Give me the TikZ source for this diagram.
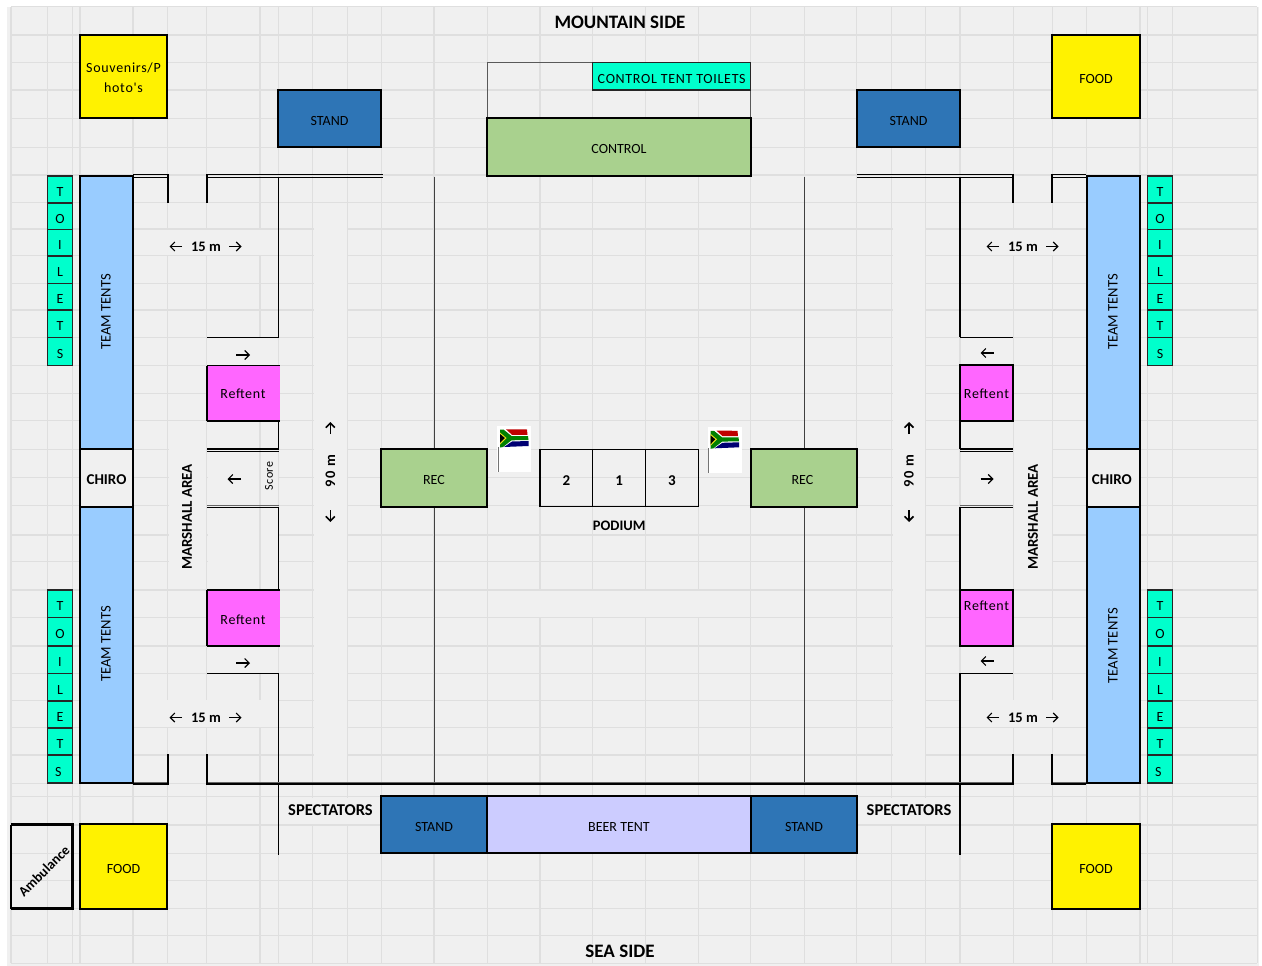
\documentclass[tikz,border=0pt]{standalone}
\usepackage{fontspec}
\setmainfont{Carlito}
\newfontfamily\spacedfont[LetterSpace=5]{Carlito}
\newfontfamily\widefont[LetterSpace=12]{Carlito}
\usetikzlibrary{
  arrows.meta,
  calc,
}
\definecolor{sheet}{HTML}{F0F0F0}
\definecolor{gridline}{HTML}{DFDFDF}
\definecolor{standblue}{HTML}{2E75B6}
\definecolor{tentblue}{HTML}{99CCFF}
\definecolor{ctrlgreen}{HTML}{A9D18E}
\definecolor{loogreen}{HTML}{00FFCC}
\definecolor{refpink}{HTML}{FF66FF}
\definecolor{beerlilac}{HTML}{CCCCFF}
\tikzset{
  >={Straight Barb[length=4.5pt,width=9pt]},
  every node/.style={font=\fontsize{14}{20}\selectfont, inner sep=0pt, align=center},
  boxtext/.style={midway, yshift=-2.5pt},
  heavy/.style={draw=black, line width=2.5pt},
  wall/.style={draw=black, line width=1.1pt},
  axis/.style={draw=black!75, line width=1pt},
  post/.style={draw=black, line width=1.8pt},
  greywall/.style={draw=black!60, line width=1.5pt},
  standbox/.style={heavy, fill=standblue},
  foodbox/.style={heavy, fill=yellow},
  controlbox/.style={heavy, fill=ctrlgreen},
  teambox/.style={heavy, fill=tentblue},
  chirobox/.style={heavy, fill=sheet},
  beerbox/.style={heavy, fill=beerlilac},
  refbox/.style={heavy, fill=refpink},
  loo/.style={draw=black!85, line width=1.1pt, fill=loogreen},
  podiumbox/.style={draw=black, line width=1.2pt},
  pointer/.style={->, line width=1.1pt},
  metre/.style={->, line width=1.6pt},
  boldlabel/.style={font=\fontsize{#1}{20}\selectfont\bfseries},
  saflag/.pic={
    \fill[white] (0,0) rectangle (34,46);
    \fill[black!55] (0.8,21) rectangle (1.8,46);
    \fill[red!75!black] (9,3.3) -- (30,3.5) -- (30.5,8.8) -- (15,8.8) -- cycle;
    \fill[blue!45!black] (15,15.5) -- (31.5,15) -- (31.5,20) -- (7,21) -- cycle;
    \fill[green!50!black] (3,3.5) -- (6.5,3.5) -- (14.5,10) -- (31,10) -- (31.5,14) -- (14.5,14.3) -- (6,21) -- (3,21.5) -- cycle;
    \fill[yellow!90!black] (3,6.5) -- (9.5,12) -- (3,18.5) -- cycle;
    \fill[black] (3,8) -- (7.8,12) -- (3,17) -- cycle;
  },
}

\begin{document}
\begin{tikzpicture}[x=1pt, y=-1pt]
      \useasboundingbox (0,0) rectangle (1262,966);
      \fill[sheet] (7,7) rectangle (1259,966);

      % spreadsheet cells
      \foreach \x in {11,47.7,72.7,80,133,167.7,206.7,260,278.7,312.7,347.7,381.7,434,487.7,540,592.7,645.7,698.3,750.7,804.3,856.7,891.7,925.7,960,1013.3,1052.3,1086.7,1140,1147.3,1172.7,1257.3} {
        \draw[gridline, line width=1.2pt] (\x,6.7) -- (\x,963.3);
      }
      \foreach \y in {6.7,35,62.3,90,118.3,147.7,175,202.3,229,255.7,283.3,310,337.3,365.7,393.3,420.7,449.3,477.3,505.7,535,561.7,590,617.7,646,673.3,700.7,727.3,755,783.3,796.7,825,853.3,880.7,908.3,935.7,963.3} {
        \draw[gridline, line width=1.2pt] (11,\y) -- (1257.3,\y);
      }

      % merged cells
      \foreach \xa/\ya/\xb/\yb in {
        313.5/203/346.9/782, 892.5/203/924.9/782,
        134/230/278/254.9, 134/700/278/726.5,
        961/230/1085.9/254.9, 961/700/1085.9/726.5,
        168.5/421.5/205.9/589.2, 1014.1/421.5/1051.5/589.2,
        207.5/338/278/365, 207.5/451/259.2/505, 260.8/451/278/505,
        207.5/508/259.2/589.2, 260.8/508/278/589.2, 207.5/647/278/672.5,
        960.8/338/1013/365, 960.8/451/1013/505,
        960.8/508/1013/589.2, 960.8/647/1013/672.5,
        488.5/590.8/749.9/616.9,
        280/797.5/380.9/824.2, 857.5/797.5/959.2/824.2
      } {
        \fill[sheet] (\xa,\ya) rectangle (\xb,\yb);
      }

      % fences
      \foreach \xa/\ya/\xb/\yb in {
        133/174.5/167/174.5, 133/177.3/167/177.3, 207/174.5/383/174.5, 207/177.3/383/177.3,
        857/174.5/1013/174.5, 857/177.3/1013/177.3, 1052/174.5/1086/174.5, 1052/177.3/1086/177.3,
        278.7/177/278.7/337.3, 207/337.3/279.2/337.3, 278.7/421/278.7/449,
        207/449/279.2/449, 207/451.3/279.2/451.3, 207/507.3/279.2/507.3,
        278.7/507/278.7/590, 207/673.3/279.2/673.3, 278.7/673/278.7/855,
        960/177/960/337.3, 960/337.3/1013/337.3, 960/421/960/449,
        960/449/1013/449, 960/451.3/1013/451.3, 960/507.3/1013/507.3,
        960/507/960/590, 960/673.3/1013/673.3, 960/673/960/855,
        133/784/167/784, 207/784/1013/784, 1052/784/1086/784
      } {
        \draw[wall] (\xa,\ya) -- (\xb,\yb);
      }
      \foreach \x in {434.5, 804.5} {
        \draw[axis] (\x,177) -- (\x,449);
        \draw[axis] (\x,507) -- (\x,782);
      }
      \foreach \xa/\ya/\xb/\yb in {
        207/505.5/279.2/505.5, 960/505.5/1013/505.5,
        133/782.6/167/782.6, 207/782.6/1013/782.6, 1052/782.6/1086/782.6
      } {
        \draw[greywall] (\xa,\ya) -- (\xb,\yb);
      }
      \foreach \x/\ya/\yb in {
        167.7/174/203, 206.7/174/203, 1013.3/174/203, 1052.3/174/203,
        167.7/754/785, 206.7/754/785, 1013.3/754/785, 1052.3/754/785
      } {
        \draw[post] (\x,\ya) -- (\x,\yb);
      }

      % tents
      \draw[draw=black!65, line width=1pt] (487.5,62.3) rectangle (750.7,118.3);
      \foreach \nm/\xa/\ya/\xb/\yb/\kind/\lab in {
        foodNE/1052/35/1140/118/foodbox/FOOD,
        foodSW/80/824/167/909/foodbox/FOOD,
        foodSE/1052/824/1140/909/foodbox/FOOD,
        standNW/278/90/381/147/standbox/STAND,
        standNE/857/90/960/147/standbox/STAND,
        standSW/381/796/487/853/standbox/STAND,
        standSE/751/796/857/853/standbox/STAND,
        beertent/487/796/751/853/beerbox/BEER TENT,
        control/487/118/751/176/controlbox/CONTROL,
        recW/381/449/487/507/controlbox/REC,
        recE/751/449/857/507/controlbox/REC
      } {
        \draw[\kind] (\xa,\ya) rectangle (\xb,\yb) node[boxtext] (\nm) {\lab};
      }
      \foreach \xa/\ya/\xb/\yb/\kind in {
        80/176/133/449/teambox,
        80/507/133/783/teambox,
        1087/176/1140/449/teambox,
        1087/507/1140/783/teambox,
        80/449/133/507/chirobox,
        1087/449/1140/507/chirobox,
        80/35/167/118/foodbox,
        960/365/1013/421/refbox,
        960/590/1013/646/refbox} {
        \draw[\kind] (\xa,\ya) rectangle (\xb,\yb);
      }
      \node[font=\fontsize{14}{20}\selectfont\spacedfont] (souvenirs) at (123.5,78) {Souvenirs/P\\hoto's};
      \node (refNE) at (986.5,394) {\spacedfont Reftent};
      \node (refSE) at (986.5,605.5) {\spacedfont Reftent};

      % tents without a full border
      \path[fill=refpink] (207,365.7) rectangle (279.5,421);
      \path[fill=refpink] (207,590) rectangle (279.5,646);
      \node (refNW) at (243,394) {\spacedfont Reftent};
      \node (refSW) at (243,620) {\spacedfont Reftent};
      \foreach \ya/\yb in {365.7/421, 590/646} {
        \draw[wall] (207,\ya) -- (279.5,\ya);
        \draw[wall] (207,\yb) -- (279.5,\yb);
        \draw[post, line width=2.5pt] (207,\ya) -- (207,\yb);
      }
      \draw[loo] (592.7,62.3) rectangle (750.7,90) node[boxtext] (tentloo)
        {\addfontfeature{LetterSpace=5}CONTROL TENT TOILETS};

      % toilets
      \foreach \col/\xa/\xb in {W/47.3/72.7, E/1147.3/1172.7} {
        \foreach \row/\ya/\yb/\ch in {
          a/176/203/T, b/203/229.5/O, c/229.5/256/I, d/256/283.5/L, e/283.5/310/E, f/310/337.5/T, g/337.5/365.7/S,
          h/590/617.7/T, i/617.7/646/O, j/646/673.5/I, k/673.5/701/L, l/701/728/E, m/728/755/T, n/755/783/S
        } {
          \draw[loo] (\xa,\ya) rectangle (\xb,\yb) node[boxtext] (loo\col\row) {\ch};
        }
      }

      % ambulance
      \draw[heavy] (11,824.5) -- (72.3,824.5) -- (72.3,908.5) -- (11,908.5);
      \draw[wall] (11,824.5) -- (11,908.5);
      \node[boldlabel=14, rotate=45] (ambulance) at (44,871) {Ambulance};

      % podium
      \foreach \nm/\xa/\xb/\lab in {second/540/592.7/2, first/592.7/645.7/1, third/645.7/698.3/3} {
        \draw[podiumbox] (\xa,449.5) rectangle (\xb,506.5) node[boxtext, boldlabel=15] (\nm) {\lab};
      }
      \node[boldlabel=14.5] (podiumlabel) at (619.3,525.5) {PODIUM};
      \pic at (497,426) {saflag};
      \pic at (707.5,427.3) {saflag};

      % labels
      \foreach \nm/\x/\y/\sz/\lab in {
        mountain/620/22/19/MOUNTAIN SIDE,
        sea/620/951/19/SEA SIDE,
        specW/330.5/810/16.5/SPECTATORS,
        specE/909/810/16.5/SPECTATORS,
        chiroW/106.5/480/15/CHIRO,
        chiroE/1113.5/480/15/CHIRO
      } {
        \node[boldlabel=\sz] (\nm) at (\x,\y) {\lab};
      }
      \foreach \nm/\x/\y/\lab in {
        teamNW/106/312/TEAM TENTS, teamSW/106/644/TEAM TENTS,
        teamNE/1113/312/TEAM TENTS, teamSE/1113/644/TEAM TENTS
      } {
        \node[rotate=90, font=\fontsize{14.6}{20}\selectfont] (\nm) at (\x,\y) {\lab};
      }
      \node[rotate=90, boldlabel=15] (marshallW) at (187,517) {MARSHALL AREA};
      \node[rotate=90, boldlabel=15] (marshallE) at (1033,517) {MARSHALL AREA};
      \node[rotate=90, font=\fontsize{12}{14}\selectfont\spacedfont] (score) at (269,476) {Score};
      \node[rotate=90, boldlabel=14.5] (ninetyW) at (330.3,471) {\widefont 90 m};
      \node[rotate=90, boldlabel=14.5] (ninetyE) at (909,471) {\widefont 90 m};

      % distances
      \foreach \nm/\x/\y in {dimNW/206/246.5, dimSW/206/717.5, dimNE/1023/246.5, dimSE/1023/717.5} {
        \node[boldlabel=14.5] (\nm) at (\x,\y) {15 m};
        \coordinate (\nm a) at ($(\nm)+(-24,0)$);
        \coordinate (\nm b) at ($(\nm)+(-36.5,0)$);
        \coordinate (\nm c) at ($(\nm)+(23,0)$);
        \coordinate (\nm d) at ($(\nm)+(35.5,0)$);
        \draw[pointer] (\nm a) -- (\nm b);
        \draw[pointer] (\nm c) -- (\nm d);
      }
      \foreach \nm/\xa/\ya/\xb/\yb in {
        refa/236/355/250/355, refb/236/663/250/663, refc/241/479/227.5/479,
        refd/993.5/353/980.5/353, refe/980.5/479/993.5/479, reff/993.5/661/980.5/661
      } {
        \coordinate (\nm a) at (\xa,\ya);
        \coordinate (\nm b) at (\xb,\yb);
        \draw[pointer] (\nm a) -- (\nm b);
      }
      \foreach \nm/\x in {runw/330.3, rune/909} {
        \coordinate (\nm a) at (\x,434);
        \coordinate (\nm b) at (\x,422);
        \coordinate (\nm c) at (\x,510);
        \coordinate (\nm d) at (\x,522);
        \draw[metre] (\nm a) -- (\nm b);
        \draw[metre] (\nm c) -- (\nm d);
      }
    \end{tikzpicture}
\end{document}
